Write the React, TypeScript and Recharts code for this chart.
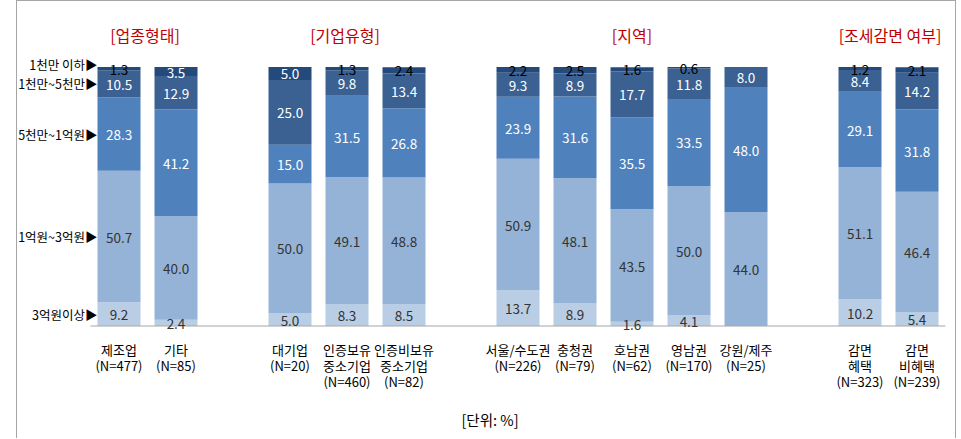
import React from "react";
import { BarChart, Bar, XAxis, YAxis, LabelList } from "recharts";

const categories = [
  "제조업\n(N=477)",
  "기타\n(N=85)",
  "_1",
  "대기업\n(N=20)",
  "인증보유\n중소기업\n(N=460)",
  "인증비보유\n중소기업\n(N=82)",
  "_2",
  "서울/수도권\n(N=226)",
  "충청권\n(N=79)",
  "호남권\n(N=62)",
  "영남권\n(N=170)",
  "강원/제주\n(N=25)",
  "_3",
  "감면\n혜택\n(N=323)",
  "감면\n비혜택\n(N=239)",
];

const over3 = [9.2, 2.4, null, 5.0, 8.3, 8.5, null, 13.7, 8.9, 1.6, 4.1, 0, null, 10.2, 5.4];
const from1to3 = [50.7, 40.0, null, 50.0, 49.1, 48.8, null, 50.9, 48.1, 43.5, 50.0, 44.0, null, 51.1, 46.4];
const from5to1 = [28.3, 41.2, null, 15.0, 31.5, 26.8, null, 23.9, 31.6, 35.5, 33.5, 48.0, null, 29.1, 31.8];
const from1to5 = [10.5, 12.9, null, 25.0, 9.8, 13.4, null, 9.3, 8.9, 17.7, 11.8, 8.0, null, 8.4, 14.2];
const under1 = [1.3, 3.5, null, 5.0, 1.3, 2.4, null, 2.2, 2.5, 1.6, 0.6, 0, null, 1.2, 2.1];

const seriesNames = ["3억원이상", "1억원~3억원", "5천만~1억원", "1천만~5천만", "1천만 이하"];
const groupTitles = [
  { title: "[업종형태]", x: 145 },
  { title: "[기업유형]", x: 345 },
  { title: "[지역]", x: 632 },
  { title: "[조세감면 여부]", x: 890 },
];

const series = [
  { key: "s0", values: over3, color: "#b9cde5", text: "#333" },
  { key: "s1", values: from1to3, color: "#95b3d7", text: "#333" },
  { key: "s2", values: from5to1, color: "#4f81bd", text: "#fff" },
  { key: "s3", values: from1to5, color: "#3a6192", text: "#fff" },
  { key: "s4", values: under1, color: "#244a7c", text: "#fff" },
];

const data = categories.map((name, i) => {
  const row: any = { name };
  series.forEach((s) => {
    row[s.key] = s.values[i];
  });
  return row;
});

const FONT = "'Noto Sans CJK KR', 'Noto Sans', sans-serif";

function makeLabel(si: number) {
  return (props: any) => {
    const { x, y, width, height, value, index } = props;
    const cx = x + width / 2;
    const cy = y + height / 2;
    let fill = series[si].text;
    if (si === 4 && value < 3) fill = "#000";
    return (
      <g>
        {value ? (
          <text x={cx} y={cy} textAnchor="middle" dominantBaseline="central" fontSize={13.5} fill={fill} fontFamily={FONT}>
            {value.toFixed(1)}
          </text>
        ) : null}
        {index === 0 ? (
          <text x={x} y={cy + (si === 4 ? -4 : 0)} textAnchor="end" dominantBaseline="central" fontSize={12.5} fill="#000" fontFamily={FONT}>
            {seriesNames[si] + "▶"}
          </text>
        ) : null}
      </g>
    );
  };
}

const CategoryTick = (props: any) => {
  const { x, y, payload } = props;
  const v: string = payload.value;
  if (v.startsWith("_")) return null;
  const lines = v.split("\n");
  return (
    <text x={x} y={y + 4} textAnchor="middle" fontSize={13} fill="#000" fontFamily={FONT}>
      {lines.map((l, i) => (
        <tspan key={i} x={x} dy={i === 0 ? 17 : 16}>
          {l}
        </tspan>
      ))}
    </text>
  );
};

export default function App() {
  return (
    <div style={{ position: "absolute", left: 0, top: 0, width: 961, height: 439, background: "#fff", fontFamily: FONT }}>
      <div style={{ position: "absolute", left: 16, top: 0, width: 938, height: 437, border: "1px solid #a6a6a6", borderBottom: "none" }} />
      {groupTitles.map((g) => (
        <div
          key={g.title}
          style={{ position: "absolute", left: g.x, top: 23, transform: "translateX(-50%)", color: "#c00000", fontSize: 16, whiteSpace: "nowrap" }}
        >
          {g.title}
        </div>
      ))}
      <BarChart
        width={961}
        height={439}
        data={data}
        margin={{ top: 67, right: 15.5, bottom: 53, left: 90.5 }}
        barCategoryGap="12.3%"
        style={{ position: "absolute", left: 0, top: 0 }}
      >
        <XAxis
          dataKey="name"
          interval={0}
          height={60}
          tickLine={false}
          axisLine={{ stroke: "#a6a6a6" }}
          tick={<CategoryTick />}
        />
        <YAxis hide domain={[0, 100]} type="number" />
        {series.map((s, si) => (
          <Bar key={s.key} dataKey={s.key} stackId="a" fill={s.color} isAnimationActive={false}>
            <LabelList dataKey={s.key} content={makeLabel(si)} />
          </Bar>
        ))}
      </BarChart>
      <div style={{ position: "absolute", left: 490, top: 409, transform: "translateX(-50%)", fontSize: 14.5, color: "#000", whiteSpace: "nowrap" }}>
        [단위: %]
      </div>
    </div>
  );
}
